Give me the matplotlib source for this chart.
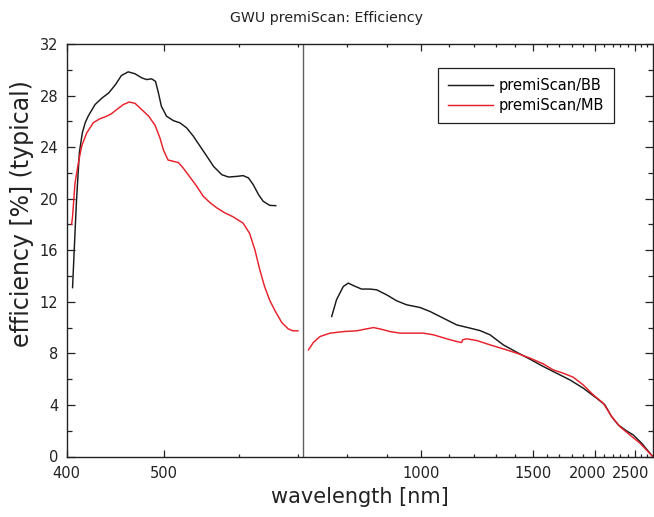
import numpy as np
import matplotlib
matplotlib.use("Agg")
import matplotlib.pyplot as plt
from matplotlib.transforms import ScaledTranslation

plt.rcParams["font.family"] = ["DejaVu Sans"]

# ---- data (wavelength in nm, efficiency in %) ----
BB_L_WL = [406, 408, 410, 413, 416, 419, 422, 429, 436, 443, 450, 456, 463, 470,
           477, 482, 487, 491, 494, 497, 503, 512, 521, 530, 539, 548, 557, 566,
           577, 586, 597, 607, 616, 624, 633, 641, 652, 662]
BB_L = [13.1, 16.5, 19.8, 23.6, 25.1, 25.9, 26.4, 27.3, 27.8, 28.2, 28.85, 29.55,
        29.84, 29.69, 29.37, 29.24, 29.3, 29.1, 28.2, 27.17, 26.4, 26.06, 25.88,
        25.49, 24.84, 24.06, 23.29, 22.5, 21.86, 21.68, 21.73, 21.79, 21.61, 21.09,
        20.31, 19.79, 19.48, 19.46]

MB_L_WL = [405, 406, 408.5, 412, 415.4, 420.5, 427.3, 434, 441, 446, 451, 458, 464,
           470, 477, 484, 490.5, 495.6, 499, 505, 512, 519, 525, 534, 543, 552, 561,
           570, 581, 592, 607, 618, 627, 635, 643, 652, 662, 672, 683, 691, 699.5]
MB_L = [18.0, 18.6, 21.2, 22.8, 24.1, 25.1, 25.9, 26.2, 26.4, 26.6, 26.9, 27.3,
        27.5, 27.4, 26.9, 26.4, 25.7, 24.7, 23.8, 23.0, 22.9, 22.8, 22.4, 21.7,
        21.0, 20.2, 19.7, 19.3, 18.9, 18.6, 18.1, 17.3, 16.0, 14.5, 13.2, 12.1,
        11.2, 10.4, 9.9, 9.75, 9.75]

BB_R_WL = [769, 779, 793, 804, 816, 837, 858, 875, 900, 929, 958, 997, 1032, 1079,
           1130, 1184, 1227, 1273, 1338, 1408, 1484, 1576, 1679, 1782, 1900, 2021,
           2111, 2188, 2272, 2383, 2478, 2603, 2795]
BB_R = [10.86, 12.16, 13.19, 13.45, 13.27, 12.99, 12.99, 12.93, 12.54, 12.08, 11.77,
        11.56, 11.25, 10.73, 10.21, 9.96, 9.77, 9.44, 8.66, 8.09, 7.55, 6.98, 6.46,
        5.94, 5.30, 4.52, 4.0, 3.09, 2.45, 1.98, 1.67, 1.03, 0.0]

MB_R_WL = [721, 731, 745, 766, 793, 825, 846, 867, 883, 910, 939, 1008, 1044, 1091,
           1130, 1150, 1154, 1170, 1212, 1273, 1338, 1408, 1485, 1576, 1652, 1731,
           1809, 1900, 1988, 2093, 2189, 2294, 2429, 2578, 2795]
MB_R = [8.27, 8.84, 9.31, 9.57, 9.69, 9.75, 9.88, 10.0, 9.9, 9.69, 9.57, 9.57, 9.44,
        9.13, 8.92, 8.84, 9.05, 9.13, 9.0, 8.66, 8.35, 8.02, 7.63, 7.18, 6.72, 6.46,
        6.15, 5.55, 4.78, 4.13, 3.09, 2.31, 1.67, 1.03, 0.0]

SERIES = ["premiScan/BB", "premiScan/MB"]
MAJOR_X = [400, 500, 1000, 1500, 2000, 2500]
MINOR_X = [600, 700, 800, 900, 1100, 1200, 1300, 1400, 1600, 1700, 1800, 1900,
           2100, 2200, 2300, 2400, 2600, 2700]
SPLIT_WL = 709

# ---- non-linear wavelength axis (knots taken from the tick marks) ----
SCALE_WL = np.array([400, 500, 600, 700, 800, 900, 1000, 1100, 1200, 1300, 1400,
                     1500, 1600, 1700, 1800, 1900, 2000, 2100, 2200, 2300, 2400,
                     2500, 2600, 2700, 2800], float)
SCALE_PX = np.array([66.7, 164.3, 239.0, 298.3, 346.7, 386.7, 421.0, 449.3, 474.0,
                     496.0, 515.3, 532.7, 546.7, 559.3, 572.3, 583.3, 594.7, 604.0,
                     612.7, 620.5, 628.0, 634.8, 641.5, 647.5, 653.0])


def lin(x, xp, fp):
    x = np.asarray(x, float)
    y = np.interp(x, xp, fp)
    y = np.where(x < xp[0], fp[0] + (x - xp[0]) * (fp[1] - fp[0]) / (xp[1] - xp[0]), y)
    y = np.where(x > xp[-1], fp[-1] + (x - xp[-1]) * (fp[-1] - fp[-2]) / (xp[-1] - xp[-2]), y)
    return y


fig = plt.figure(figsize=(6.54, 5.17), dpi=100)
ax = fig.add_axes([66.7 / 654, 60.5 / 517, 586 / 654, 412.5 / 517])
ax.set_xscale("function", functions=(lambda w: lin(w, SCALE_WL, SCALE_PX),
                                     lambda p: lin(p, SCALE_PX, SCALE_WL)))

BLACK = "#1a1a1a"
RED = "#e8202a"
ax.plot(BB_L_WL, BB_L, color=BLACK, lw=1.05, label=SERIES[0])
ax.plot(MB_L_WL, MB_L, color=RED, lw=1.05, label=SERIES[1])
ax.plot(BB_R_WL, BB_R, color=BLACK, lw=1.05)
ax.plot(MB_R_WL, MB_R, color=RED, lw=1.05)
ax.axvline(SPLIT_WL, color="#606060", lw=1.0)

ax.set_xlim(400, 2795)
ax.set_ylim(0, 32)
ax.set_xticks(MAJOR_X)
ax.set_xticklabels([str(v) for v in MAJOR_X])
ax.set_xticks(MINOR_X, minor=True)
ax.set_yticks(np.arange(0, 33, 4))
ax.set_yticks(np.arange(2, 32, 4), minor=True)

for s in ax.spines.values():
    s.set_color("#222222")
    s.set_linewidth(1.0)
ax.tick_params(which="both", direction="in", top=True, right=True,
               colors="#222222", labelcolor="#222222", labelsize=10.5, width=0.9)
ax.tick_params(axis="x", which="major", length=5, pad=7)
ax.tick_params(axis="x", which="minor", length=2.5)
ax.tick_params(axis="y", which="major", length=6, pad=6)
ax.tick_params(axis="y", which="minor", length=3.5)

# crowded labels at the long-wavelength end are nudged left, as in the original
nudge = {"2000": -7, "2500": -4}
for lab in ax.get_xticklabels():
    dx = nudge.get(lab.get_text(), 0)
    if dx:
        lab.set_transform(lab.get_transform() + ScaledTranslation(dx / 100, 0, fig.dpi_scale_trans))

ax.set_xlabel("wavelength [nm]", fontsize=15, color="#222222", labelpad=4)
ax.set_ylabel("efficiency [%] (typical)", fontsize=17, color="#222222")
ax.yaxis.set_label_coords(-0.056, 0.59)

fig.text(0.5, 1 - 18 / 517, "GWU premiScan: Efficiency", ha="center", va="center",
         fontsize=10.2, color="#222222")

leg = ax.legend(loc="upper right", bbox_to_anchor=(0.934, 0.9425), borderaxespad=0,
                fontsize=10.5, frameon=True, fancybox=False, framealpha=1,
                edgecolor="#222222", handlelength=3.1, handletextpad=0.4,
                labelspacing=0.35, borderpad=0.68)
leg.get_frame().set_linewidth(0.9)

fig.savefig("out.png", dpi=100)
